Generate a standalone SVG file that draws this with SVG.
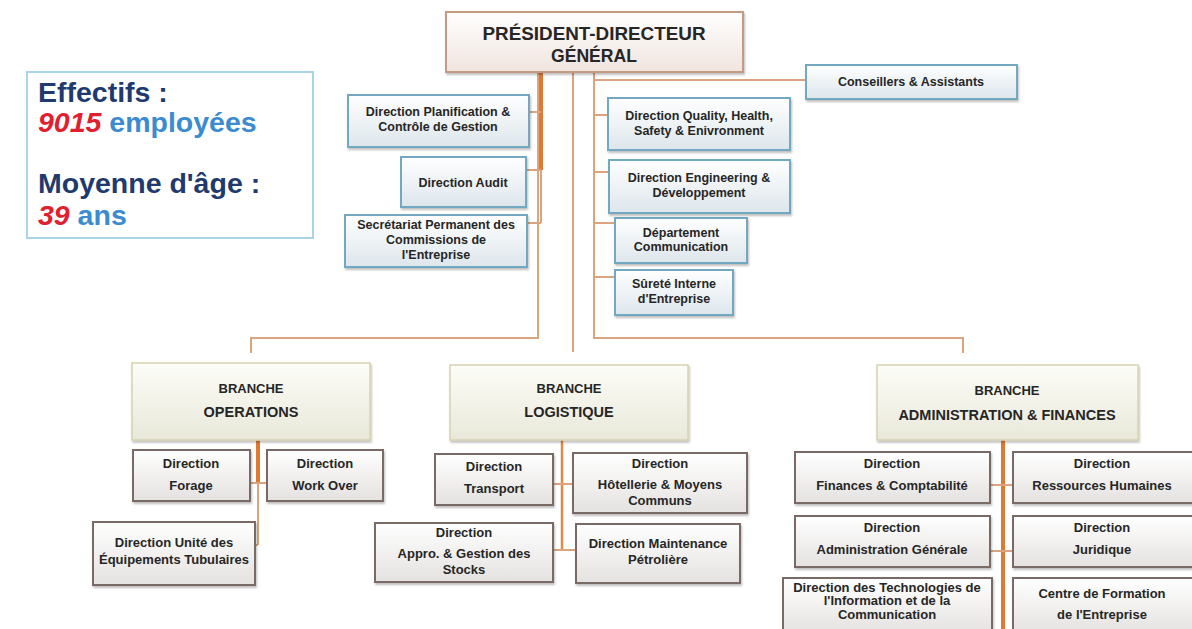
<svg xmlns="http://www.w3.org/2000/svg" width="1192" height="629" viewBox="0 0 1192 629">
<defs>
<linearGradient id="gTop" x1="0" y1="0" x2="0" y2="1"><stop offset="0" stop-color="#ffffff"/><stop offset="1" stop-color="#dde6ec"/></linearGradient>
<linearGradient id="gBot" x1="0" y1="0" x2="0" y2="1"><stop offset="0" stop-color="#ffffff"/><stop offset="1" stop-color="#e4e2e0"/></linearGradient>
<linearGradient id="gBr" x1="0" y1="0" x2="0" y2="1"><stop offset="0" stop-color="#fdfdf8"/><stop offset="1" stop-color="#e8e8da"/></linearGradient>
<linearGradient id="gPdg" x1="0" y1="0" x2="0" y2="1"><stop offset="0" stop-color="#ffffff"/><stop offset="1" stop-color="#f0e4de"/></linearGradient>
<filter id="sh" x="-10%" y="-10%" width="125%" height="135%"><feDropShadow dx="1" dy="2" stdDeviation="1.2" flood-color="#000" flood-opacity="0.25"/></filter>
</defs>
<style>
.top{fill:url(#gTop);stroke:#72a9c0;stroke-width:2;filter:url(#sh)}
.bot{fill:url(#gBot);stroke:#7a6b66;stroke-width:2;filter:url(#sh)}
.br{fill:url(#gBr);stroke:#d8d2b0;stroke-width:1.5;filter:url(#sh)}
.pdg{fill:url(#gPdg);stroke:#c49a82;stroke-width:2;filter:url(#sh)}
text{font-family:"Liberation Sans",Arial,sans-serif;font-weight:bold;fill:#262626;text-anchor:middle}
.t{font-size:12.5px}
.b{font-size:13px}
.h{font-size:14.5px}
.big{font-size:28.5px;text-anchor:start}
.navy{fill:#1f3a6e}
.blue{fill:#3b8bd0}
.red{fill:#e0202e;font-style:italic}
.c{fill:none;stroke:#dba47e;stroke-width:2}
.ck{fill:none;stroke:#e07a33;stroke-width:4}
.cm{fill:none;stroke:#e08a4a;stroke-width:2.5}
</style>

<g id="connectors">
<line class="ck" x1="541" y1="72" x2="541" y2="170"/>
<line class="c" x1="541" y1="170" x2="541" y2="223"/>
<polyline class="c" points="538,72 538,338 251,338 251,353"/>
<line class="c" x1="573" y1="72" x2="573" y2="352"/>
<polyline class="c" points="594,72 594,338 963,338 963,353"/>
<line class="c" x1="594" y1="80" x2="806" y2="80"/>
<line class="c" x1="529" y1="112" x2="541" y2="112"/>
<line class="c" x1="526" y1="170" x2="541" y2="170"/>
<line class="c" x1="527" y1="223" x2="541" y2="223"/>
<line class="c" x1="594" y1="115" x2="608" y2="115"/>
<line class="c" x1="594" y1="172" x2="609" y2="172"/>
<line class="c" x1="594" y1="223" x2="615" y2="223"/>
<line class="c" x1="594" y1="277" x2="615" y2="277"/>
<line class="ck" x1="258" y1="440" x2="258" y2="483"/>
<line class="c" x1="258" y1="483" x2="258" y2="545"/>
<line class="c" x1="250" y1="483" x2="267" y2="483"/>
<line class="c" x1="255" y1="545" x2="258" y2="545"/>
<line class="cm" x1="562" y1="440" x2="562" y2="550"/>
<line class="c" x1="553" y1="484" x2="573" y2="484"/>
<line class="c" x1="553" y1="550" x2="576" y2="550"/>
<line class="ck" x1="1003" y1="440" x2="1003" y2="629"/>
<line class="c" x1="990" y1="485" x2="1013" y2="485"/>
<line class="c" x1="990" y1="551" x2="1013" y2="551"/>
</g>

<g id="effectifs">
<rect x="27" y="72" width="286" height="166" fill="#ffffff" stroke="#a9d3e6" stroke-width="2"/>
<text class="big navy" x="38" y="102">Effectifs :</text>
<text class="big" x="38" y="132"><tspan class="red">9015</tspan><tspan class="blue"> employées</tspan></text>
<text class="big navy" x="38" y="193">Moyenne d'âge :</text>
<text class="big" x="38" y="225"><tspan class="red">39</tspan><tspan class="blue"> ans</tspan></text>
</g>

<g id="pdg">
<rect class="pdg" x="446" y="12" width="297" height="60"/>
<text x="594" y="40" font-size="19" textLength="223" lengthAdjust="spacingAndGlyphs">PRÉSIDENT-DIRECTEUR</text>
<text x="594" y="62" font-size="19" textLength="86" lengthAdjust="spacingAndGlyphs">GÉNÉRAL</text>
</g>

<g id="planification">
<rect class="top" x="348" y="95" width="181" height="52"/>
<text class="t" x="438" y="116">Direction Planification &amp;</text>
<text class="t" x="438" y="131">Contrôle de Gestion</text>
</g>
<g id="audit">
<rect class="top" x="401" y="157" width="125" height="50"/>
<text class="t" x="463" y="187">Direction Audit</text>
</g>
<g id="secretariat">
<rect class="top" x="345" y="215" width="182" height="52"/>
<text class="t" x="436" y="229">Secrétariat Permanent des</text>
<text class="t" x="436" y="244">Commissions de</text>
<text class="t" x="436" y="259">l'Entreprise</text>
</g>
<g id="qhse">
<rect class="top" x="608" y="98" width="182" height="52"/>
<text class="t" x="699" y="120">Direction Quality, Health,</text>
<text class="t" x="699" y="135">Safety &amp; Enivronment</text>
</g>
<g id="engineering">
<rect class="top" x="609" y="160" width="181" height="53"/>
<text class="t" x="699" y="182">Direction Engineering &amp;</text>
<text class="t" x="699" y="197">Développement</text>
</g>
<g id="communication">
<rect class="top" x="615" y="218" width="132" height="45"/>
<text class="t" x="681" y="237">Département</text>
<text class="t" x="681" y="251">Communication</text>
</g>
<g id="surete">
<rect class="top" x="615" y="270" width="118" height="45"/>
<text class="t" x="674" y="288">Sûreté Interne</text>
<text class="t" x="674" y="303">d'Entreprise</text>
</g>
<g id="conseillers">
<rect class="top" x="806" y="65" width="211" height="34"/>
<text class="t" x="911" y="86">Conseillers &amp; Assistants</text>
</g>

<g id="branche-operations">
<rect class="br" x="132" y="363" width="238" height="77"/>
<text class="b" x="251" y="393">BRANCHE</text>
<text class="h" x="251" y="417">OPERATIONS</text>
</g>
<g id="forage">
<rect class="bot" x="133" y="450" width="117" height="51"/>
<text class="b" x="191" y="468">Direction</text>
<text class="b" x="191" y="490">Forage</text>
</g>
<g id="workover">
<rect class="bot" x="267" y="450" width="116" height="51"/>
<text class="b" x="325" y="468">Direction</text>
<text class="b" x="325" y="490">Work Over</text>
</g>
<g id="tubulaires">
<rect class="bot" x="93" y="522" width="162" height="63"/>
<text class="b" x="174" y="547">Direction Unité des</text>
<text class="b" x="174" y="564">Équipements Tubulaires</text>
</g>

<g id="branche-logistique">
<rect class="br" x="450" y="365" width="238" height="75"/>
<text class="b" x="569" y="393">BRANCHE</text>
<text class="h" x="569" y="417">LOGISTIQUE</text>
</g>
<g id="transport">
<rect class="bot" x="435" y="454" width="118" height="51"/>
<text class="b" x="494" y="471">Direction</text>
<text class="b" x="494" y="493">Transport</text>
</g>
<g id="hotellerie">
<rect class="bot" x="573" y="453" width="174" height="60"/>
<text class="b" x="660" y="468">Direction</text>
<text class="b" x="660" y="489">Hôtellerie &amp; Moyens</text>
<text class="b" x="660" y="505">Communs</text>
</g>
<g id="appro">
<rect class="bot" x="375" y="523" width="178" height="59"/>
<text class="b" x="464" y="537">Direction</text>
<text class="b" x="464" y="558">Appro. &amp; Gestion des</text>
<text class="b" x="464" y="574">Stocks</text>
</g>
<g id="maintenance">
<rect class="bot" x="576" y="524" width="164" height="59"/>
<text class="b" x="658" y="548">Direction Maintenance</text>
<text class="b" x="658" y="564">Pétrolière</text>
</g>

<g id="branche-admin">
<rect class="br" x="877" y="365" width="261" height="75"/>
<text class="b" x="1007" y="395">BRANCHE</text>
<text class="h" x="1007" y="420">ADMINISTRATION &amp; FINANCES</text>
</g>
<g id="finances">
<rect class="bot" x="795" y="452" width="195" height="51"/>
<text class="b" x="892" y="468">Direction</text>
<text class="b" x="892" y="490">Finances &amp; Comptabilité</text>
</g>
<g id="rh">
<rect class="bot" x="1013" y="452" width="185" height="51"/>
<text class="b" x="1102" y="468">Direction</text>
<text class="b" x="1102" y="490">Ressources Humaines</text>
</g>
<g id="admin-generale">
<rect class="bot" x="795" y="516" width="195" height="51"/>
<text class="b" x="892" y="532">Direction</text>
<text class="b" x="892" y="554">Administration Générale</text>
</g>
<g id="juridique">
<rect class="bot" x="1013" y="516" width="185" height="51"/>
<text class="b" x="1102" y="532">Direction</text>
<text class="b" x="1102" y="554">Juridique</text>
</g>
<g id="technologies">
<rect class="bot" x="783" y="578" width="209" height="56"/>
<text class="b" x="887" y="592">Direction des Technologies de</text>
<text class="b" x="887" y="605">l'Information et de la</text>
<text class="b" x="887" y="619">Communication</text>
</g>
<g id="formation">
<rect class="bot" x="1013" y="578" width="185" height="56"/>
<text class="b" x="1102" y="598">Centre de Formation</text>
<text class="b" x="1102" y="619">de l'Entreprise</text>
</g>
</svg>
